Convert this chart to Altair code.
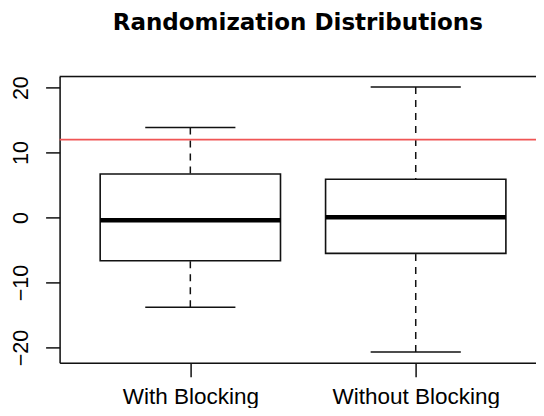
import altair as alt
import pandas as pd

# Data
groups = ["With Blocking", "Without Blocking"]
positions = [1, 2]
lower_whisker = [-13.8, -20.7]
q1 = [-6.65, -5.5]
median = [-0.4, 0.05]
q3 = [6.7, 5.9]
upper_whisker = [13.85, 20.1]
observed = [12.0]
y_ticks = [-20, -10, 0, 10, 20]

df = pd.DataFrame({
    "group": groups, "pos": positions, "lo": lower_whisker, "q1": q1,
    "med": median, "q3": q3, "hi": upper_whisker,
})
ref = pd.DataFrame({"v": observed})

W, H = 476.4, 286.3
xscale = alt.Scale(domain=[0.42, 0.42 + W / 225.4], nice=False, zero=False)
yscale = alt.Scale(domain=[-22.33, 21.73], nice=False, zero=False)

FONT = "Liberation Sans"
LINE = "#111111"

xaxis = alt.Axis(values=positions, title=None, grid=False, domain=True,
                 domainColor=LINE, domainWidth=1.5, tickColor=LINE, tickWidth=1.5,
                 tickSize=14, labelFont=FONT, labelFontSize=22.5, labelColor="black",
                 labelBaseline="alphabetic", labelPadding=26.5, labelAlign="center",
                 labelExpr="datum.value == 1 ? 'With Blocking' : 'Without Blocking'")
yaxis = alt.Axis(values=y_ticks, title=None, grid=False, domain=True,
                 domainColor=LINE, domainWidth=1.5, tickColor=LINE, tickWidth=1.5,
                 tickSize=14, labelFont=FONT, labelFontSize=21.5, labelColor="black",
                 labelAngle=270, labelAlign="center", labelBaseline="alphabetic",
                 labelPadding=18)

base = alt.Chart(df).transform_calculate(
    xl="datum.pos - 0.4", xr="datum.pos + 0.4",
    cl="datum.pos - 0.2", cr="datum.pos + 0.2",
)

upper = base.mark_rule(color=LINE, strokeWidth=1.5, strokeDash=[7, 6]).encode(
    x=alt.X("pos:Q", scale=xscale, axis=xaxis),
    y=alt.Y("hi:Q", scale=yscale, axis=yaxis),
    y2="q3:Q",
)
lower = base.mark_rule(color=LINE, strokeWidth=1.5, strokeDash=[7, 6]).encode(
    x="pos:Q", y="lo:Q", y2="q1:Q",
)
cap_hi = base.mark_rule(color=LINE, strokeWidth=1.5).encode(
    x="cl:Q", x2="cr:Q", y="hi:Q",
)
cap_lo = base.mark_rule(color=LINE, strokeWidth=1.5).encode(
    x="cl:Q", x2="cr:Q", y="lo:Q",
)
box = base.mark_rect(fill="white", stroke=LINE, strokeWidth=1.6).encode(
    x="xl:Q", x2="xr:Q", y="q1:Q", y2="q3:Q",
)
med = base.mark_rule(color="black", strokeWidth=4.5).encode(
    x="xl:Q", x2="xr:Q", y="med:Q",
)
redline = alt.Chart(ref).mark_rule(color="#f05555", strokeWidth=1.8).encode(
    y="v:Q",
)
topline = alt.Chart(ref).mark_rule(color=LINE, strokeWidth=1.5).encode(
    x=alt.value(0), x2=alt.value(W), y=alt.value(0),
)

chart = alt.layer(upper, lower, cap_hi, cap_lo, box, med, redline, topline).properties(
    width=W, height=H,
    title=alt.TitleParams("Randomization Distributions", font="DejaVu Sans",
                          fontSize=23, fontWeight="bold", color="black",
                          anchor="middle", baseline="alphabetic", offset=22.5),
    autosize=alt.AutoSizeParams(type="none"),
    padding={"left": 51.6, "top": 68.4, "right": 0, "bottom": 45.3},
).configure_view(stroke=None).configure(background="white")

chart.save("out.html", embed_options={"renderer": "svg", "actions": False})
